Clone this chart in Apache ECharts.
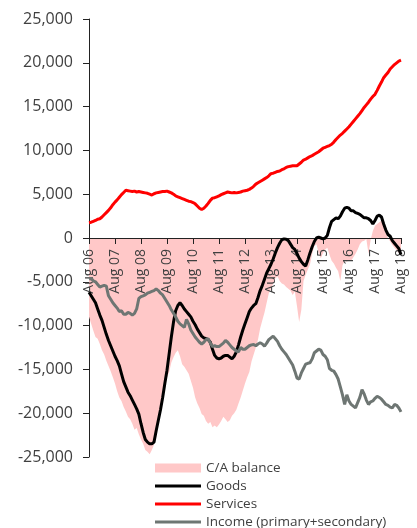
<!DOCTYPE html>
<html>
<head>
<meta charset="utf-8">
<script src="https://cdn.jsdelivr.net/npm/echarts@6/dist/echarts.min.js"></script>
<style>
  html, body { margin: 0; padding: 0; background: #fff; }
  #chart { width: 417px; height: 528px; }
</style>
</head>
<body>
<div id="chart"></div>
<script>
// monthly, Aug 06 .. Aug 18
var monthNames = ['Jan','Feb','Mar','Apr','May','Jun','Jul','Aug','Sep','Oct','Nov','Dec'];
var categories = [];
for (var k = 0; k < 145; k++) {
  var m = (7 + k) % 12;
  var y = 6 + Math.floor((7 + k) / 12);
  categories.push(monthNames[m] + ' ' + (y < 10 ? '0' + y : '' + y));
}

var yTicks = [-25000, 25000, 5000]; // min, max, step

var caBalance = [
  -9000, -9800, -10600, -11300, -11500, -12100, -12800, -13300, -14000, -14600, -15200, -15900,
  -16600, -17500, -18200, -18600, -19300, -19800, -20400, -20700, -21200, -21900, -21700, -22400,
  -23000, -23500, -24200, -24400, -24700, -24200, -23600, -22700, -21000, -19500, -17800, -17000,
  -15900, -15300, -14200, -13600, -13100, -12800, -13500, -14400, -14700, -15100, -15500, -16300,
  -17100, -18200, -18900, -19400, -20100, -20300, -20900, -21200, -21000, -21600, -21400, -21600,
  -21300, -20900, -20400, -20700, -21000, -20800, -20300, -20000, -19600, -18900, -18200, -17400,
  -16600, -15900, -15300, -14100, -13300, -12500, -11600, -10300, -9400, -8500, -7400, -6300,
  -5800, -5200, -4600, -4400, -4900, -5200, -5300, -5600, -5800, -6000, -6500, -6100,
  -7800, -9600, -8200, -4900, -4200, -3600, -3000, -1800, -900, -700, -1700, -2300,
  -1700, -1300, -1100, -1900, -2600, -2900, -3400, -3800, -4900, -3100, -2600, -2700,
  -2500, -2600, -2200, -1800, -1300, -700, -400, -300, -100, -1800, -200, 800,
  1400, 1600, 1800, 2000, 1400, 500, 0, -400, -800, -1100, -1400, -1700,
  -1900
];

var goods = [
  -6200, -6600, -7000, -7400, -8100, -8800, -9400, -10200, -11000, -11700, -12300, -12900,
  -13500, -14000, -14600, -15500, -16400, -17000, -17600, -18000, -18500, -19000, -19500, -20100,
  -21200, -22200, -23000, -23300, -23500, -23500, -23300, -22000, -20800, -19600, -18200, -16600,
  -15100, -13200, -11300, -9600, -8300, -7700, -7400, -7700, -8100, -8400, -8700, -9000,
  -9500, -9900, -10400, -10800, -11200, -11400, -11500, -11600, -11900, -12700, -13400, -13700,
  -13800, -13700, -13500, -13400, -13400, -13600, -13800, -13500, -13000, -12200, -11300, -10500,
  -9800, -9100, -8400, -8000, -7700, -7500, -6800, -6000, -5400, -4700, -4000, -3500,
  -3000, -2400, -1700, -1100, -600, -200, -100, -150, -300, -700, -1100, -1300,
  -1800, -2300, -2700, -3000, -3200, -2500, -1700, -1000, -400, 0, 100, 0,
  -100, 0, 300, 1200, 1900, 2100, 2300, 2200, 2500, 3000, 3400, 3500,
  3400, 3100, 3100, 2900, 2800, 2700, 2500, 2300, 2300, 2200, 2000, 1600,
  2000, 2500, 2600, 2400, 1600, 900, 400, 200, -300, -600, -900, -1200,
  -1900
];

var services = [
  1750, 1800, 1900, 2000, 2150, 2200, 2400, 2650, 2900, 3150, 3450, 3800,
  4100, 4350, 4650, 4950, 5200, 5450, 5400, 5350, 5300, 5350, 5250, 5300,
  5250, 5200, 5150, 5100, 5000, 4900, 5050, 5150, 5200, 5250, 5300, 5300,
  5350, 5250, 5150, 5000, 4800, 4700, 4600, 4500, 4400, 4300, 4200, 4150,
  4050, 3900, 3650, 3400, 3250, 3400, 3650, 3950, 4300, 4550, 4600, 4700,
  4800, 4950, 5050, 5150, 5250, 5200, 5150, 5200, 5150, 5200, 5250, 5350,
  5400, 5450, 5550, 5700, 5900, 6150, 6300, 6450, 6600, 6750, 6900, 7100,
  7350, 7400, 7500, 7600, 7650, 7800, 7900, 8050, 8150, 8200, 8250, 8250,
  8250, 8450, 8650, 8900, 9000, 9150, 9300, 9400, 9550, 9700, 9850, 10050,
  10250, 10350, 10450, 10550, 10700, 10950, 11250, 11500, 11750, 11950, 12200, 12450,
  12700, 13000, 13300, 13600, 13900, 14200, 14550, 14900, 15200, 15500, 15850, 16150,
  16400, 16850, 17350, 17800, 18300, 18600, 18900, 19300, 19550, 19800, 20000, 20200,
  20300
];

var income = [
  -4700, -4600, -4900, -5000, -5300, -5600, -5500, -5400, -5500, -6600, -7000, -7400,
  -7700, -8000, -8400, -8300, -8700, -8700, -8500, -8600, -8800, -8600, -8100, -6900,
  -6700, -6600, -6500, -6300, -6200, -6100, -6000, -5800, -6000, -6300, -6500, -6900,
  -7300, -7700, -8200, -8600, -9000, -9500, -9800, -10000, -10200, -9300, -9800, -10500,
  -10900, -11300, -11600, -11900, -12100, -11900, -11600, -11500, -12000, -12400, -12300, -12400,
  -12400, -12200, -12000, -11700, -11900, -12200, -12500, -12700, -12900, -13000, -12500, -12700,
  -12700, -12500, -12300, -12200, -12150, -12300, -12100, -11960, -12100, -12340, -12000, -11600,
  -11400, -11200, -11500, -11800, -12300, -12700, -13000, -13300, -13700, -14100, -14500, -15200,
  -16000, -16100, -15400, -14900, -14400, -14300, -14250, -13800, -13100, -12900, -12700, -12800,
  -13300, -13500, -13900, -14900, -15100, -15200, -15600, -16100, -17000, -17900, -19000, -17900,
  -18600, -19000, -19200, -19400, -18800, -18200, -17300, -17800, -18500, -19000, -18700, -18600,
  -18300, -18060, -18200, -18400, -18700, -19000, -19100, -19300, -19400, -19000, -19100, -19400,
  -19850
];

var seriesNames = ['C/A balance', 'Goods', 'Services', 'Income (primary+secondary)'];

var textColor = '#404040';
var font = 'Open Sans';

var gridTop = 19, gridBottom = 71, chartHeight = 528;
// the x axis sits on the zero line, half way down the plot
var zeroOffset = -(chartHeight - gridTop - gridBottom) / 2;

// thin bar in the middle of a 46x9 legend box
var lineIcon = 'path://M0,0L46,0L46,0.01Z M0,3L46,3L46,6L0,6Z M0,9L46,9L46,8.99Z';

function everyYear(index) {
  return index % 12 === 0;
}

function lineSeries(name, data, color, z) {
  return {
    name: name,
    type: 'line',
    data: data,
    symbol: 'none',
    showSymbol: false,
    z: z,
    color: color,
    lineStyle: { width: 3, color: color },
    emphasis: { disabled: true }
  };
}

var chart = echarts.init(document.getElementById('chart'));

chart.setOption({
  animation: false,
  backgroundColor: '#fff',
  grid: { left: 89, right: 16, top: gridTop, bottom: gridBottom },
  legend: {
    orient: 'vertical',
    left: 155,
    top: 461,
    height: 90,
    padding: 0,
    itemWidth: 46,
    itemHeight: 9,
    itemGap: 4,
    textStyle: { color: textColor, fontFamily: font, fontSize: 13.5 },
    selectedMode: false,
    data: [
      { name: seriesNames[0], icon: 'rect', itemStyle: { color: '#ffc8c8' } },
      { name: seriesNames[1], icon: lineIcon, itemStyle: { color: '#000000' } },
      { name: seriesNames[2], icon: lineIcon, itemStyle: { color: '#ff0000' } },
      { name: seriesNames[3], icon: lineIcon, itemStyle: { color: '#6e7673' } }
    ]
  },
  xAxis: {
    type: 'category',
    data: categories,
    boundaryGap: false,
    position: 'bottom',
    offset: zeroOffset,
    z: 3,
    axisLine: { onZero: false, lineStyle: { color: '#222', width: 1 } },
    axisTick: { interval: everyYear, length: 6, lineStyle: { color: '#222' } },
    axisLabel: {
      interval: everyYear,
      rotate: 90,
      margin: 11,
      color: textColor,
      fontFamily: font,
      fontSize: 14
    },
    splitLine: { show: false }
  },
  yAxis: {
    type: 'value',
    min: yTicks[0],
    max: yTicks[1],
    interval: yTicks[2],
    axisLine: { show: true, lineStyle: { color: '#222', width: 1 } },
    axisTick: { show: true, length: 6, lineStyle: { color: '#222' } },
    axisLabel: {
      margin: 16,
      color: textColor,
      fontFamily: font,
      fontSize: 16,
      formatter: function (v) { return v.toLocaleString('en-US'); }
    },
    splitLine: { show: false }
  },
  series: [
    {
      name: seriesNames[0],
      type: 'line',
      data: caBalance,
      symbol: 'none',
      showSymbol: false,
      z: 1,
      color: '#ffc8c8',
      lineStyle: { width: 0 },
      areaStyle: { color: '#ffc8c8', opacity: 1 },
      emphasis: { disabled: true }
    },
    lineSeries(seriesNames[1], goods, '#000000', 5),
    lineSeries(seriesNames[2], services, '#ff0000', 5),
    lineSeries(seriesNames[3], income, '#6e7673', 6)
  ]
});
</script>
</body>
</html>
